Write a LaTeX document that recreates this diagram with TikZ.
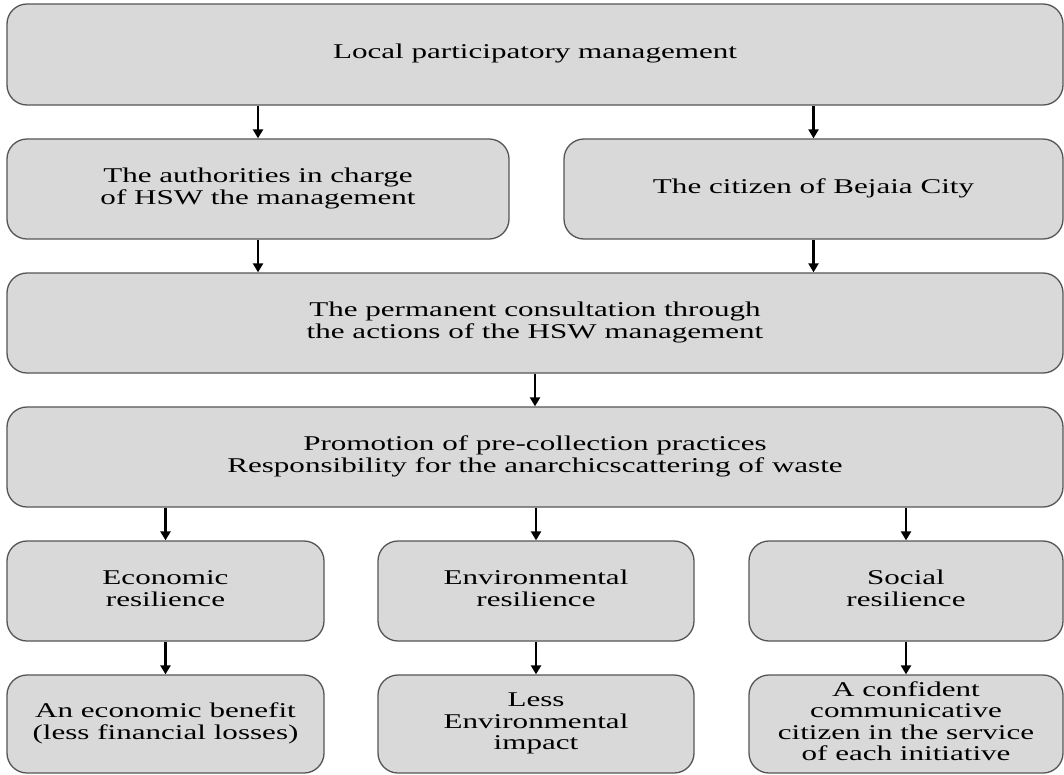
\documentclass[tikz,border=0pt]{standalone}
\usepackage{fontspec}
\setmainfont{Liberation Serif}
\usetikzlibrary{arrows.meta}
\definecolor{boxfill}{HTML}{D9D9D9}
\definecolor{boxline}{HTML}{555555}
\newcommand{\sx}[1]{\scalebox{1.48}[1]{\begin{tabular}{@{}c@{}}#1\end{tabular}}}
\tikzset{
  box/.style={draw=boxline, fill=boxfill, rounded corners=20pt, line width=1.3pt,
    inner sep=0pt, align=center, font=\fontsize{21}{21.5}\selectfont},
  arr/.style={-{Triangle[width=10pt,length=9pt]}, line width=2.3pt, draw=black}
}
\begin{document}
\begin{tikzpicture}[x=1pt,y=-1pt]
\useasboundingbox (0,0) rectangle (1064,774);
\node[box, minimum width=1056pt, minimum height=101pt] (top) at (535,54.5) {\sx{Local participatory management}};
\node[box, minimum width=502pt, minimum height=100pt] (auth) at (258,189) {\sx{The authorities in charge\\of HSW the management}};
\node[box, minimum width=499pt, minimum height=100pt] (cit) at (813.5,189) {\sx{The citizen of Bejaia City}};
\node[box, minimum width=1056pt, minimum height=100pt] (cons) at (535,323) {\sx{The permanent consultation through\\the actions of the HSW management}};
\node[box, minimum width=1056pt, minimum height=100pt] (prom) at (535,457) {\sx{Promotion of pre-collection practices\\Responsibility for the anarchicscattering of waste}};
\node[box, minimum width=317pt, minimum height=100pt] (eco) at (165.5,591) {\sx{Economic\\resilience}};
\node[box, minimum width=316pt, minimum height=100pt] (env) at (536,591) {\sx{Environmental\\resilience}};
\node[box, minimum width=314pt, minimum height=100pt] (soc) at (906,591) {\sx{Social\\resilience}};
\node[box, minimum width=317pt, minimum height=98pt] (ben) at (165.5,724) {\sx{An economic benefit\\(less financial losses)}};
\node[box, minimum width=316pt, minimum height=98pt] (imp) at (536,724) {\sx{Less\\Environmental\\impact}};
\node[box, minimum width=314pt, minimum height=98pt] (conf) at (906,724) {\sx{A confident\\communicative\\citizen in the service\\of each initiative}};
\draw[arr] (auth.north|-top.south) -- (auth.north);
\draw[arr] (cit.north|-top.south) -- (cit.north);
\draw[arr] (auth.south) -- (auth.south|-cons.north);
\draw[arr] (cit.south) -- (cit.south|-cons.north);
\draw[arr] (cons.south) -- (prom.north);
\draw[arr] (eco.north|-prom.south) -- (eco.north);
\draw[arr] (env.north|-prom.south) -- (env.north);
\draw[arr] (soc.north|-prom.south) -- (soc.north);
\draw[arr] (eco.south) -- (ben.north);
\draw[arr] (env.south) -- (imp.north);
\draw[arr] (soc.south) -- (conf.north);
\end{tikzpicture}
\end{document}
